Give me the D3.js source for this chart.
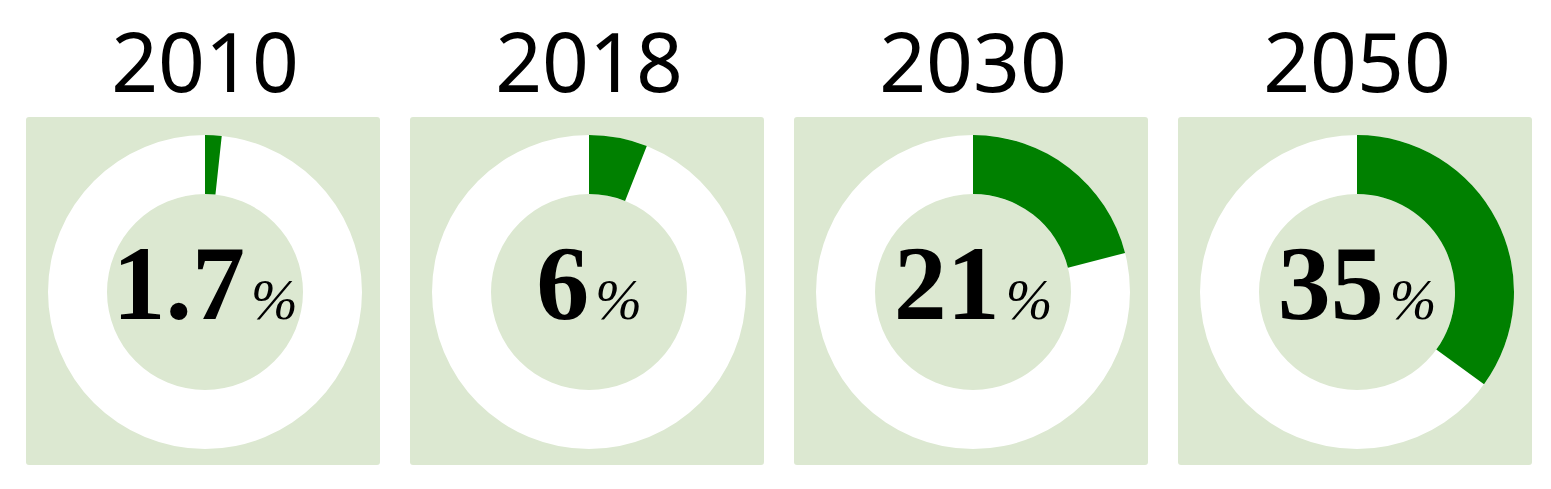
<!DOCTYPE html>
<html>
<head>
<meta charset="utf-8">
<script src="https://cdn.jsdelivr.net/npm/d3@7"></script>
<style>
  html, body { margin: 0; padding: 0; background: #fff; }
  .year { font-family: "Noto Sans", sans-serif; font-size: 82px; }
  .num { font-family: "Liberation Serif", serif; font-weight: bold; font-size: 106px; }
  .pct { font-family: "Liberation Serif", serif; font-style: italic; font-size: 56px; font-weight: normal; }
</style>
</head>
<body>
<div id="chart"></div>
<script>
var years = ["2010", "2018", "2030", "2050"];
var shares = [1.7, 6, 21, 35];
var labels = ["1.7", "6", "21", "35"];

var width = 1551, height = 489;
var panelTop = 117, panelH = 348;
var rOuter = 157, rInner = 98;

var svg = d3.select("#chart")
    .append("svg")
    .attr("width", width)
    .attr("height", height);

var x = d3.scaleBand()
    .domain(years)
    .range([26, 1532])
    .paddingInner(30 / 384)
    .paddingOuter(0);

var pct = d3.scaleLinear().domain([0, 100]).range([0, 2 * Math.PI]);

var ring = d3.arc().innerRadius(rInner).outerRadius(rOuter).startAngle(0).endAngle(2 * Math.PI);
var arc = d3.arc().innerRadius(rInner).outerRadius(rOuter).startAngle(0);

var data = years.map(function (y, i) { return { year: y, value: shares[i], label: labels[i] }; });

var g = svg.selectAll(".panel")
    .data(data)
    .enter().append("g")
    .attr("class", "panel")
    .attr("transform", function (d) { return "translate(" + x(d.year) + ",0)"; });

g.append("text")
    .attr("class", "year")
    .attr("x", x.bandwidth() / 2 + 2)
    .attr("y", 92)
    .attr("text-anchor", "middle")
    .text(function (d) { return d.year; });

g.append("rect")
    .attr("y", panelTop)
    .attr("width", x.bandwidth())
    .attr("height", panelH)
    .attr("rx", 3)
    .attr("fill", "#dce8d1");

var c = g.append("g")
    .attr("transform", "translate(" + (x.bandwidth() / 2 + 2) + "," + (panelTop + panelH / 2 + 1) + ")");

c.append("path")
    .attr("d", ring())
    .attr("fill", "#fff");

c.append("path")
    .attr("d", function (d) { return arc.endAngle(pct(d.value))(); })
    .attr("fill", "#008000");

var t = c.append("text")
    .attr("class", "num")
    .attr("y", 27)
    .attr("text-anchor", "middle");
t.append("tspan").text(function (d) { return d.label; });
t.append("tspan").attr("class", "pct").attr("dx", 6).text("%");
</script>
</body>
</html>
